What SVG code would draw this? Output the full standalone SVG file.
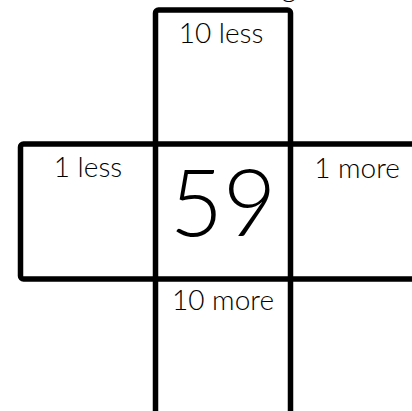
<svg xmlns="http://www.w3.org/2000/svg" width="412" height="411" viewBox="0 0 412 411">
<style>
.box{fill:none;stroke:#000;stroke-width:5.5;stroke-linejoin:round}
.lbl{font-family:Lato,"Liberation Sans",sans-serif;font-weight:300;font-size:28px;fill:#000;text-anchor:middle}
.big{font-family:Lato,"Liberation Sans",sans-serif;font-weight:300;font-size:92px;fill:#000;text-anchor:middle}
</style>
<rect width="412" height="411" fill="#fff"/>
<text x="289" y="-3" class="lbl">g</text>
<g id="connectors"></g>
<g id="vertical">
<rect class="box" x="155.5" y="10" width="135" height="420" rx="3"/>
</g>
<g id="horizontal">
<rect class="box" x="20.5" y="144" width="420" height="135" rx="3"/>
</g>
<g id="top"><text x="221" y="43" class="lbl">10 less</text></g>
<g id="left"><text x="88" y="177" class="lbl">1 less</text></g>
<g id="right"><text x="357" y="178" class="lbl">1 more</text></g>
<g id="bottom"><text x="223" y="310" class="lbl">10 more</text></g>
<g id="center"><text x="223" y="236" class="big">59</text></g>
</svg>
